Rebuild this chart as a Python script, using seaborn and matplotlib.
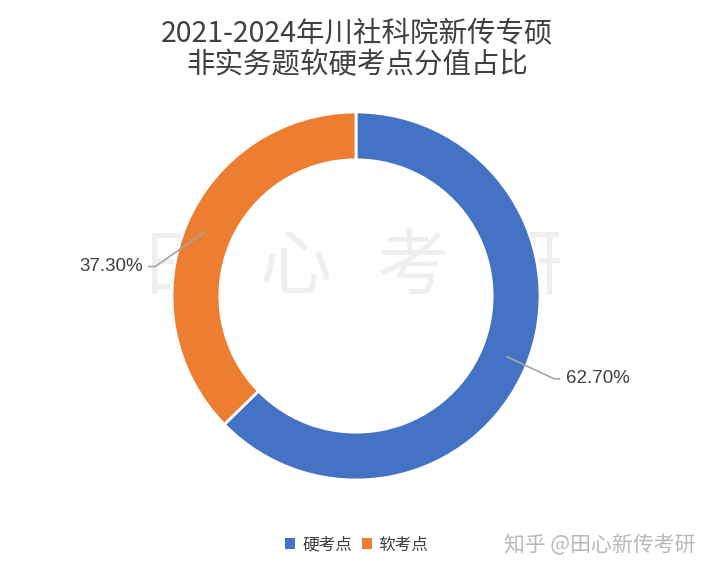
import matplotlib.pyplot as plt
import seaborn as sns
from matplotlib.patches import Patch

sns.set_theme(style="white")
plt.rcParams["font.family"] = ["Noto Sans CJK SC", "DejaVu Sans"]

TITLE = "2021-2024年川社科院新传专硕\n非实务题软硬考点分值占比"
CATEGORIES = ["硬考点", "软考点"]
SHARES = [62.70, 37.30]
COLORS = ["#4472C4", "#ED7D31"]
WATERMARK = ["田", "心", "考", "研"]

fig = plt.figure(figsize=(7.16, 5.70), dpi=100)

# donut centred at ~(356, 296) px, outer radius ~184 px
cx, cy, r = 356, 296, 184
ax = fig.add_axes([(cx - r) / 716, (570 - cy - r) / 570, 2 * r / 716, 2 * r / 570])
ax.patch.set_visible(False)

wedges, _ = ax.pie(
    SHARES,
    colors=COLORS,
    startangle=90,
    counterclock=False,
    radius=1.0,
    wedgeprops={"width": 0.26, "edgecolor": "white", "linewidth": 2},
)
ax.set_xlim(-1, 1)
ax.set_ylim(-1, 1)
ax.set_aspect("equal")

# data labels with leader lines
line_kw = {"arrowstyle": "-", "color": "#a6a6a6", "lw": 1.2, "shrinkA": 2, "shrinkB": 0}
label_kw = {"family": ["Liberation Sans", "DejaVu Sans"], "fontsize": 13.5, "color": "#404040"}
ax.annotate(f"{SHARES[0]:.2f}%", xy=(0.82, -0.33), xytext=(1.14, -0.45),
            ha="left", va="center", **label_kw,
            arrowprops={**line_kw, "connectionstyle": "angle,angleA=0,angleB=-25,rad=0"})
ax.annotate(f"{SHARES[1]:.2f}%", xy=(-0.82, 0.35), xytext=(-1.16, 0.16),
            ha="right", va="center", **label_kw,
            arrowprops={**line_kw, "connectionstyle": "angle,angleA=0,angleB=35,rad=0"})

# faint background watermark
for ch, x in zip(WATERMARK, [181, 296, 412, 527]):
    fig.text(x / 716, 1 - 268 / 570, ch, ha="center", va="center", fontsize=52,
             color="#efefef", zorder=-1)

fig.suptitle(TITLE, x=357 / 716, y=1 - 18 / 570, va="top", fontsize=20.5,
             color="#404040", linespacing=1.12)

handles = [Patch(facecolor=c, edgecolor="none") for c in COLORS]
fig.legend(handles, CATEGORIES, loc="center", bbox_to_anchor=(357 / 716, 1 - 545 / 570),
           ncol=2, frameon=False, fontsize=12, handlelength=0.6, handleheight=0.6,
           handletextpad=0.4, columnspacing=0.6, labelcolor="#404040")

fig.text(600 / 716, 1 - 545 / 570, "知乎 @田心新传考研", ha="center", va="center",
         fontsize=15, color="#b8b8b8")

fig.savefig("out.png", dpi=100, facecolor="white")
